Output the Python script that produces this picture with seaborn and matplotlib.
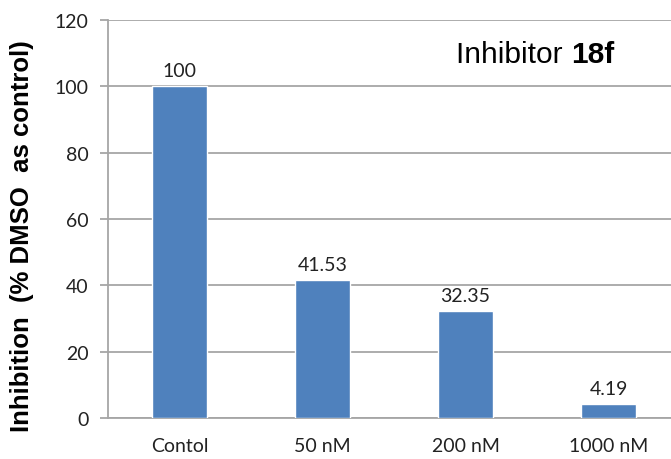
import matplotlib
matplotlib.use("Agg")
import matplotlib.pyplot as plt
import seaborn as sns
import pandas as pd
from matplotlib.ticker import FixedLocator

categories = ["Contol", "50 nM", "200 nM", "1000 nM"]
values = [100, 41.53, 32.35, 4.19]
value_labels = ["100", "41.53", "32.35", "4.19"]
y_ticks = [0, 20, 40, 60, 80, 100, 120]

sns.set_style("white")
plt.rcParams['font.family'] = ['Lato', 'DejaVu Sans']

df = pd.DataFrame({"cat": categories, "val": values})

fig = plt.figure(figsize=(6.71, 4.60), dpi=100)
ax = fig.add_axes([108/671, 1-419/460, 1-108/671, (419-21)/460])

sns.barplot(data=df, x="cat", y="val", color="#4F81BD", width=0.39,
            saturation=1, ax=ax, zorder=3)

ax.set_ylim(0, 120)
ax.set_xlim(-0.5, -0.5 + (671-108)/143)
ax.set_yticks(y_ticks)
ax.set_yticklabels([str(t) for t in y_ticks], fontsize=14, color="#222222")
ax.yaxis.grid(True, color="#A6A6A6", linewidth=1.3, zorder=0)
ax.xaxis.grid(False)

ax.set_xticks(range(len(categories)))
ax.set_xticklabels(categories, fontsize=14, color="#222222")
ax.xaxis.set_minor_locator(FixedLocator([-0.5, 0.5, 1.5, 2.5, 3.5]))
ax.tick_params(axis="x", which="major", length=0, pad=14)
ax.tick_params(axis="x", which="minor", length=7, width=1.3, color="#A6A6A6", direction="out")
ax.tick_params(axis="y", which="major", length=6, width=1.3, color="#A6A6A6", direction="out", pad=8, left=True)

for s in ["top", "right"]:
    ax.spines[s].set_visible(False)
for s in ["left", "bottom"]:
    ax.spines[s].set_visible(True)
    ax.spines[s].set_color("#A6A6A6")
    ax.spines[s].set_linewidth(1.3)

for c, v, lab in zip(ax.containers[0], values, value_labels):
    ax.annotate(lab, (c.get_x() + c.get_width()/2, v), xytext=(0, 5),
                textcoords="offset points", ha="center", va="bottom",
                fontsize=14, color="#222222")

ax.set_xlabel("")
ax.set_ylabel("Inhibition  (% DMSO  as control)", fontsize=18.5, fontweight="bold",
              family=["Liberation Sans", "DejaVu Sans"], color="black")
ax.yaxis.set_label_coords(-(108-34)/563, 0.5 - 16/398)

t1 = fig.text(456/671, 1-63/460, "Inhibitor ", fontsize=21.5, family=["Liberation Sans"],
              ha="left", va="baseline", color="black")
fig.canvas.draw()
bb = t1.get_window_extent()
fig.text(bb.x1/fig.bbox.width, 1-63/460, "18f", fontsize=21.5, fontweight="bold",
         family=["Liberation Sans"], ha="left", va="baseline", color="black")

fig.savefig("out.png", dpi=100)
